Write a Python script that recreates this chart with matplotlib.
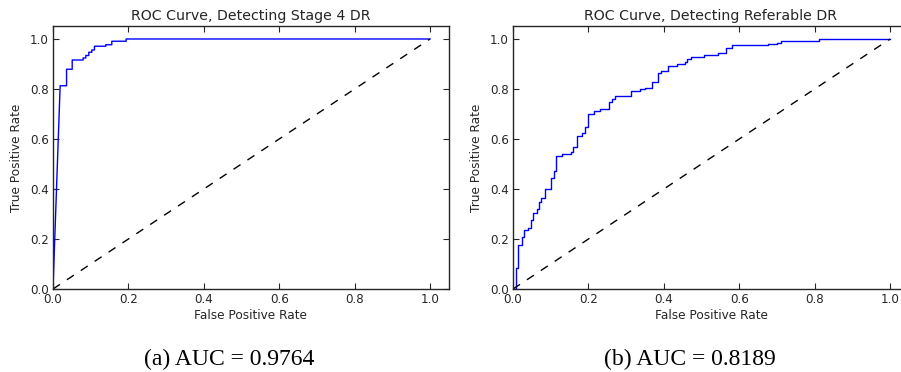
import matplotlib
matplotlib.use("Agg")
import matplotlib.pyplot as plt

# ROC curve (a): detecting stage 4 DR
fpr_a = [0.0, 0.019, 0.036, 0.036, 0.051, 0.051, 0.080, 0.080, 0.087, 0.087,
         0.095, 0.095, 0.103, 0.103, 0.110, 0.110, 0.140, 0.140, 0.156, 0.156,
         0.194, 0.194, 1.0]
tpr_a = [0.0, 0.813, 0.813, 0.879, 0.879, 0.916, 0.916, 0.924, 0.924, 0.934,
         0.934, 0.947, 0.947, 0.956, 0.956, 0.971, 0.971, 0.977, 0.977, 0.991,
         0.991, 1.0, 1.0]

# ROC curve (b): detecting referable DR (step points: x where tpr rises, new tpr)
step_x_b = [0.0, 0.008, 0.014, 0.025, 0.030, 0.041, 0.047, 0.053, 0.063, 0.069,
            0.075, 0.085, 0.102, 0.108, 0.114, 0.131, 0.154, 0.160, 0.169, 0.183,
            0.191, 0.200, 0.214, 0.230, 0.254, 0.262, 0.271, 0.314, 0.338, 0.351,
            0.369, 0.385, 0.393, 0.412, 0.435, 0.455, 0.462, 0.472, 0.507, 0.544,
            0.566, 0.582, 0.675, 0.699, 0.712, 0.812]
step_y_b = [0.0, 0.083, 0.176, 0.207, 0.236, 0.243, 0.276, 0.305, 0.320, 0.347,
            0.365, 0.399, 0.443, 0.473, 0.532, 0.539, 0.546, 0.567, 0.612, 0.623,
            0.648, 0.699, 0.713, 0.720, 0.748, 0.760, 0.771, 0.791, 0.799, 0.803,
            0.829, 0.863, 0.873, 0.893, 0.900, 0.907, 0.919, 0.927, 0.937, 0.944,
            0.964, 0.975, 0.980, 0.985, 0.992, 1.0]

ticks = [0.0, 0.2, 0.4, 0.6, 0.8, 1.0]
titles = ["ROC Curve, Detecting Stage 4 DR", "ROC Curve, Detecting Referable DR"]
captions = ["(a) AUC = 0.9764", "(b) AUC = 0.8189"]


def steps(xs, ys):
    # build a staircase: horizontal then vertical
    px, py = [xs[0]], [ys[0]]
    for x, y in zip(xs[1:], ys[1:]):
        px += [x, x]
        py += [py[-1], y]
    px.append(1.0)
    py.append(py[-1])
    return px, py


fpr_b, tpr_b = steps(step_x_b, step_y_b)

fig = plt.figure(figsize=(9.01, 3.72), dpi=100)
axes = [fig.add_axes([0.0588, 0.2231, 0.4394, 0.7057]),
        fig.add_axes([0.5694, 0.2231, 0.4394, 0.7057])]

txt = "#262626"
for ax, (fx, ty), title in zip(axes, [(fpr_a, tpr_a), (fpr_b, tpr_b)], titles):
    ax.plot(fx, ty, color="#0000ff", lw=1.0)
    ax.plot([0, 1], [0, 1], color="black", lw=1.0, linestyle=(0, (6, 6)))
    ax.set_xlim(0, 1.05)
    ax.set_ylim(0, 1.05)
    ax.set_xticks(ticks)
    ax.set_yticks(ticks)
    ax.tick_params(direction="in", top=True, right=True, length=4, width=0.8,
                   labelsize=8.6, colors=txt, pad=3)
    for s in ax.spines.values():
        s.set_linewidth(1.0)
        s.set_color(txt)
    ax.set_title(title, fontsize=10.2, color=txt, pad=5)
    ax.set_xlabel("False Positive Rate", fontsize=8.7, color=txt, labelpad=2)
    ax.set_ylabel("True Positive Rate", fontsize=8.7, color=txt, labelpad=5)

fig.text(0.254, 0.035, captions[0], ha="center", va="center",
         family="Liberation Serif", fontsize=17)
fig.text(0.766, 0.035, captions[1], ha="center", va="center",
         family="Liberation Serif", fontsize=17)

fig.savefig("out.png", dpi=100, facecolor="white")
